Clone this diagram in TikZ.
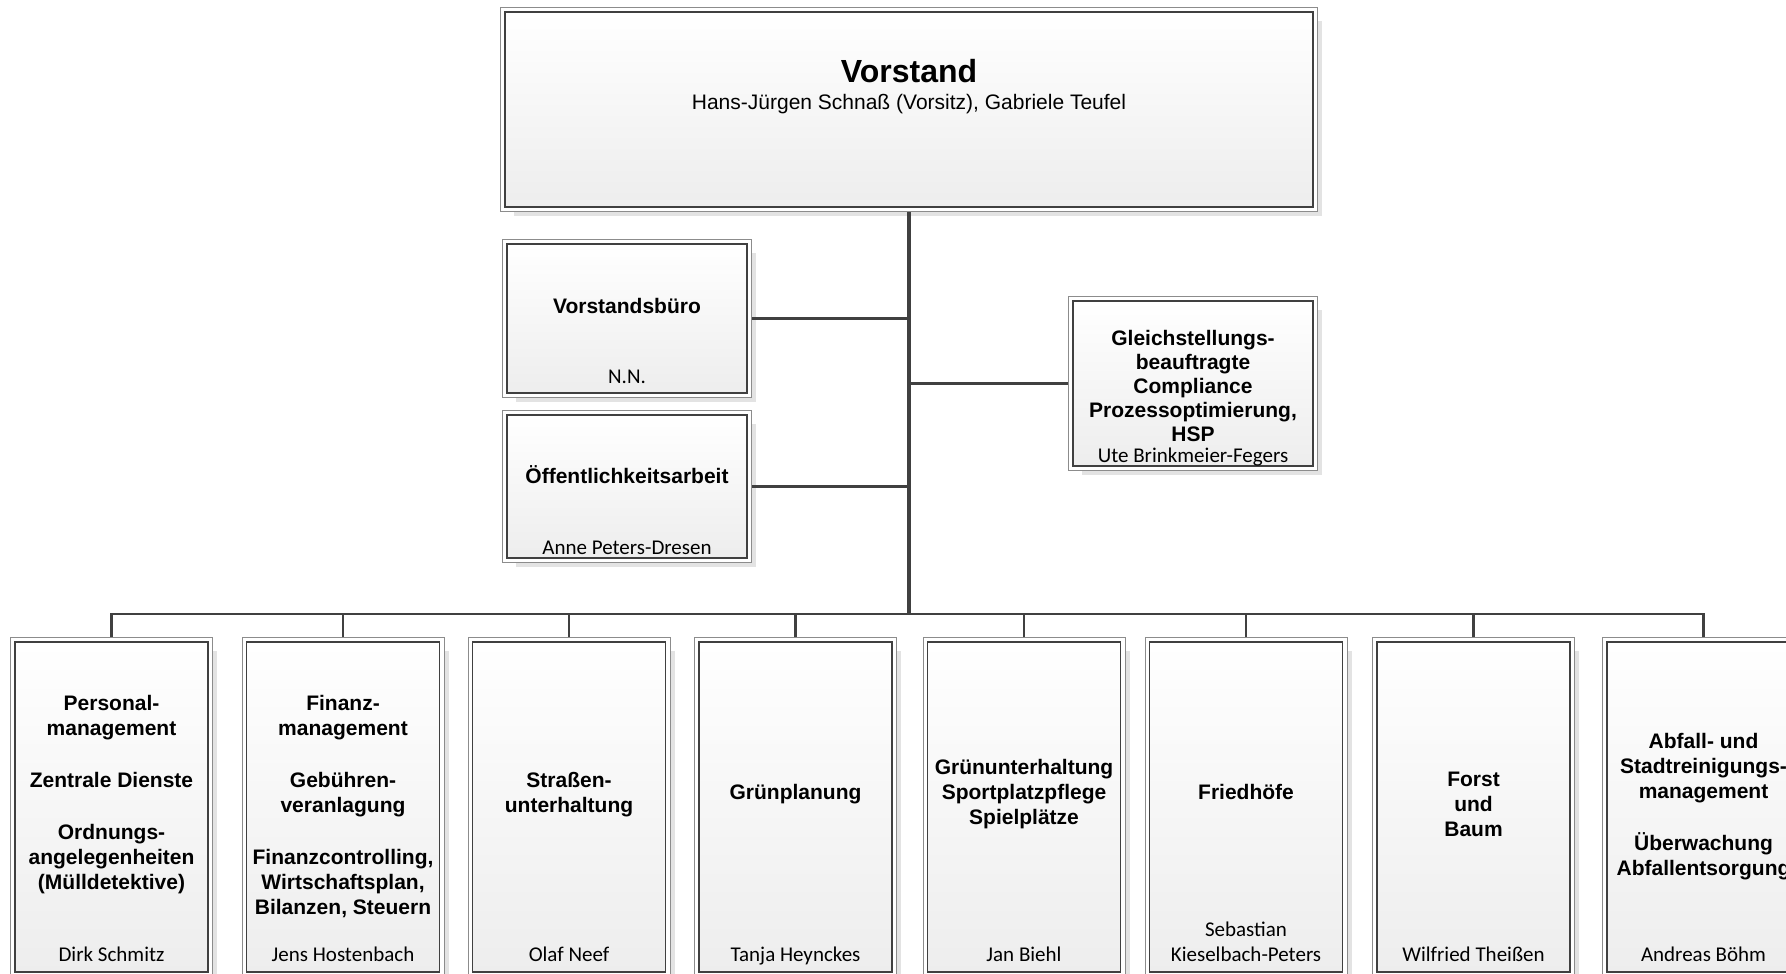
\documentclass[tikz,border=0pt]{standalone}
\usepackage{fontspec}
\setmainfont{Liberation Sans}
\newfontfamily\calibri{Carlito}
\usetikzlibrary{shadows}

\begin{document}
\begin{tikzpicture}[x=1pt,y=-1pt]
            \tikzstyle{every node}+=[inner sep=0pt]
            \tikzstyle{einheit}=[draw=black!75, line width=1.2pt, top color=white, bottom color=black!7, drop shadow={shadow xshift=9pt, shadow yshift=-9pt, fill=black!11, opacity=1}, preaction={draw=black!45, line width=10pt}, preaction={draw=white, line width=8pt}, outer sep=5pt]
            \tikzstyle{abteilung}=[einheit, minimum width=193pt, minimum height=330pt]
            \tikzstyle{stab}=[einheit, minimum width=240pt]
            \tikzstyle{titel}=[font=\fontsize{21}{25}\selectfont\bfseries, align=center]
            \tikzstyle{leiter}=[font=\fontsize{21}{25}\selectfont\calibri, align=center, anchor=base]
            \tikzstyle{linie}=[draw=black!75, line width=2.6pt]
            \useasboundingbox (0,0) rectangle (1786,974);
            % Vorstand
            \node [einheit, minimum width=808pt, minimum height=195pt] (vs) at (909,109.5) {};
            \node [anchor=base, font=\fontsize{32}{36}\selectfont\bfseries] (vsT) at (909,82) {Vorstand};
            \node [anchor=base, font=\fontsize{21}{25}\selectfont] (vsL) at (909,110) {Hans-Jürgen Schnaß (Vorsitz), Gabriele Teufel};
            % Stabsstellen
            \node [stab, minimum height=149pt] (vb) at (627,318.5) {};
            \node [titel, anchor=base] (vbT) at (627,313.5) {Vorstandsbüro};
            \node [leiter] (vbL) at (627,383.5) {N.N.};
            \node [stab, minimum height=143pt] (oe) at (627,486.5) {};
            \node [titel, anchor=base] (oeT) at (627,483.5) {Öffentlichkeitsarbeit};
            \node [leiter] (oeL) at (627,554.5) {Anne Peters-Dresen};
            \node [stab, minimum height=165pt] (gb) at (1193,383.5) {};
            \node [titel, font=\fontsize{21}{24}\selectfont\bfseries] (gbT) at (1193,386) {Gleichstellungs-\\beauftragte\\Compliance\\Prozessoptimierung,\\HSP};
            \node [leiter] (gbL) at (1193,462) {Ute Brinkmeier-Fegers};
            % Abteilungen
            \node [abteilung] (u1) at (111.5,807) {};
            \node [titel] (u1T) at (111.5,794.5) {Personal-\\management\\[27pt]Zentrale Dienste\\[27pt]Ordnungs-\\angelegenheiten\\(Mülldetektive)};
            \node [leiter] (u1L) at (111.5,961) {Dirk Schmitz};
            \node [abteilung] (u2) at (343,807) {};
            \node [titel] (u2T) at (343,806.5) {Finanz-\\management\\[27pt]Gebühren-\\veranlagung\\[27pt]Finanzcontrolling,\\Wirtschaftsplan,\\Bilanzen, Steuern};
            \node [leiter] (u2L) at (343,961) {Jens Hostenbach};
            \node [abteilung] (u3) at (569,807) {};
            \node [titel] (u3T) at (569,794.5) {Straßen-\\unterhaltung};
            \node [leiter] (u3L) at (569,961) {Olaf Neef};
            \node [abteilung] (u4) at (795.5,807) {};
            \node [titel, anchor=base] (u4T) at (795.5,799.5) {Grünplanung};
            \node [leiter] (u4L) at (795.5,961) {Tanja Heynckes};
            \node [abteilung] (u5) at (1024,807) {};
            \node [titel] (u5T) at (1024,794) {Grünunterhaltung\\Sportplatzpflege\\Spielplätze};
            \node [leiter] (u5L) at (1024,961) {Jan Biehl};
            \node [abteilung] (u6) at (1246,807) {};
            \node [titel, anchor=base] (u6T) at (1246,799.5) {Friedhöfe};
            \node [leiter, anchor=south] (u6L) at (1246,962) {Sebastian\\Kieselbach-Peters};
            \node [abteilung] (u7) at (1473.5,807) {};
            \node [titel] (u7T) at (1473.5,804.5) {Forst\\und\\Baum};
            \node [leiter] (u7L) at (1473.5,961) {Wilfried Theißen};
            \node [abteilung] (u8) at (1703.5,807) {};
            \node [titel] (u8T) at (1703.5,806.5) {Abfall- und\\Stadtreinigungs-\\management\\[27pt]Überwachung\\Abfallentsorgung};
            \node [leiter] (u8L) at (1703.5,961) {Andreas Böhm};
            % Verbindungen
            \coordinate (bus) at (909,614);
            \draw [linie] (vb) -| (bus);
            \draw [linie] (oe) -| (bus);
            \draw [linie] (gb) -| (bus);
            \draw [linie] (u1) |- (bus);
            \draw [linie] (u2) |- (bus);
            \draw [linie] (u3) |- (bus);
            \draw [linie] (u4) |- (bus);
            \draw [linie] (u5) |- (bus);
            \draw [linie] (u6) |- (bus);
            \draw [linie] (u7) |- (bus);
            \draw [linie] (u8) |- (bus);
            \draw [linie, line width=4pt] (vs) -- (bus);
\end{tikzpicture}
\end{document}
